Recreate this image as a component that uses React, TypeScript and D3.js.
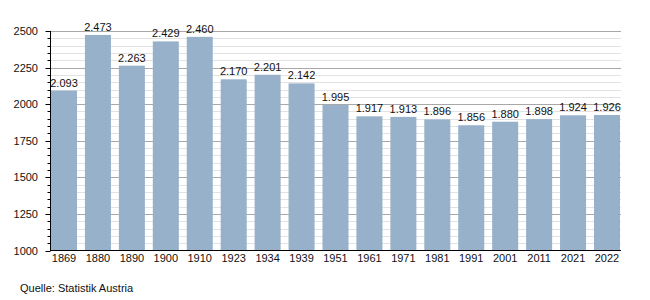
import React from "react";
import * as d3 from "d3";

const years = ["1869","1880","1890","1900","1910","1923","1934","1939","1951","1961","1971","1981","1991","2001","2011","2021","2022"];
const values = [2093,2473,2263,2429,2460,2170,2201,2142,1995,1917,1913,1896,1856,1880,1898,1924,1926];
const majorTicks = [1000,1250,1500,1750,2000,2250,2500];
const minorTicks = d3.range(1000, 2501, 50);
const source = "Quelle: Statistik Austria";

const W = 650, H = 300;
const left = 50.5, right = 621, top = 31, bottom = 250.5;
const font = "'Liberation Sans', Arial, sans-serif";
const barColor = "#98b1cb";

const fmt = (v: number) => {
  const s = String(v);
  return s.length > 3 ? s.slice(0, s.length - 3) + "." + s.slice(-3) : s;
};

export default function App() {
  const y = d3.scaleLinear().domain([1000, 2500]).range([bottom, top]);
  const x = d3.scaleBand<string>().domain(years).range([51, 620]).paddingInner(0.233).paddingOuter(0);
  return (
    <svg width={W} height={H} style={{ position: "absolute", left: 0, top: 0 }} fontFamily={font}>
      <rect width={W} height={H} fill="#fff" />
      {minorTicks.filter(t => t % 250 !== 0).map(t => (
        <line key={"m" + t} x1={left} x2={right} y1={Math.round(y(t)) + 0.5} y2={Math.round(y(t)) + 0.5} stroke="#e2e2e2" strokeWidth={1} />
      ))}
      {majorTicks.filter(t => t !== 1000).map(t => (
        <line key={"M" + t} x1={left} x2={right} y1={Math.round(y(t)) + 0.5} y2={Math.round(y(t)) + 0.5} stroke="#a8a8a8" strokeWidth={1} />
      ))}
      {years.map((yr, i) => (
        <rect key={yr} x={x(yr)!} width={x.bandwidth()} y={y(values[i])} height={y(1000) - y(values[i])} fill={barColor} />
      ))}
      {years.map((yr, i) => (
        <text key={"v" + yr} x={x(yr)! + x.bandwidth() / 2} y={y(values[i]) - 4} textAnchor="middle" fontSize={11} fill="#111">{fmt(values[i])}</text>
      ))}
      {/* axes */}
      <line x1={left} x2={left} y1={top} y2={bottom} stroke="#000" strokeWidth={1} />
      <line x1={left - 0.5} x2={right} y1={bottom} y2={bottom} stroke="#000" strokeWidth={1} />
      {minorTicks.map(t => (
        <line key={"t" + t} x1={t % 250 === 0 ? left - 5 : left - 3} x2={left} y1={Math.round(y(t)) + 0.5} y2={Math.round(y(t)) + 0.5} stroke="#000" strokeWidth={1} />
      ))}
      {majorTicks.map(t => (
        <text key={"yl" + t} x={38} y={y(t) + 4} textAnchor="end" fontSize={11} fill="#111">{t}</text>
      ))}
      {years.map(yr => (
        <text key={"xl" + yr} x={x(yr)! + x.bandwidth() / 2} y={262} textAnchor="middle" fontSize={11} fill="#111">{yr}</text>
      ))}
      <text x={20} y={292} fontSize={11} fill="#111">{source}</text>
    </svg>
  );
}
